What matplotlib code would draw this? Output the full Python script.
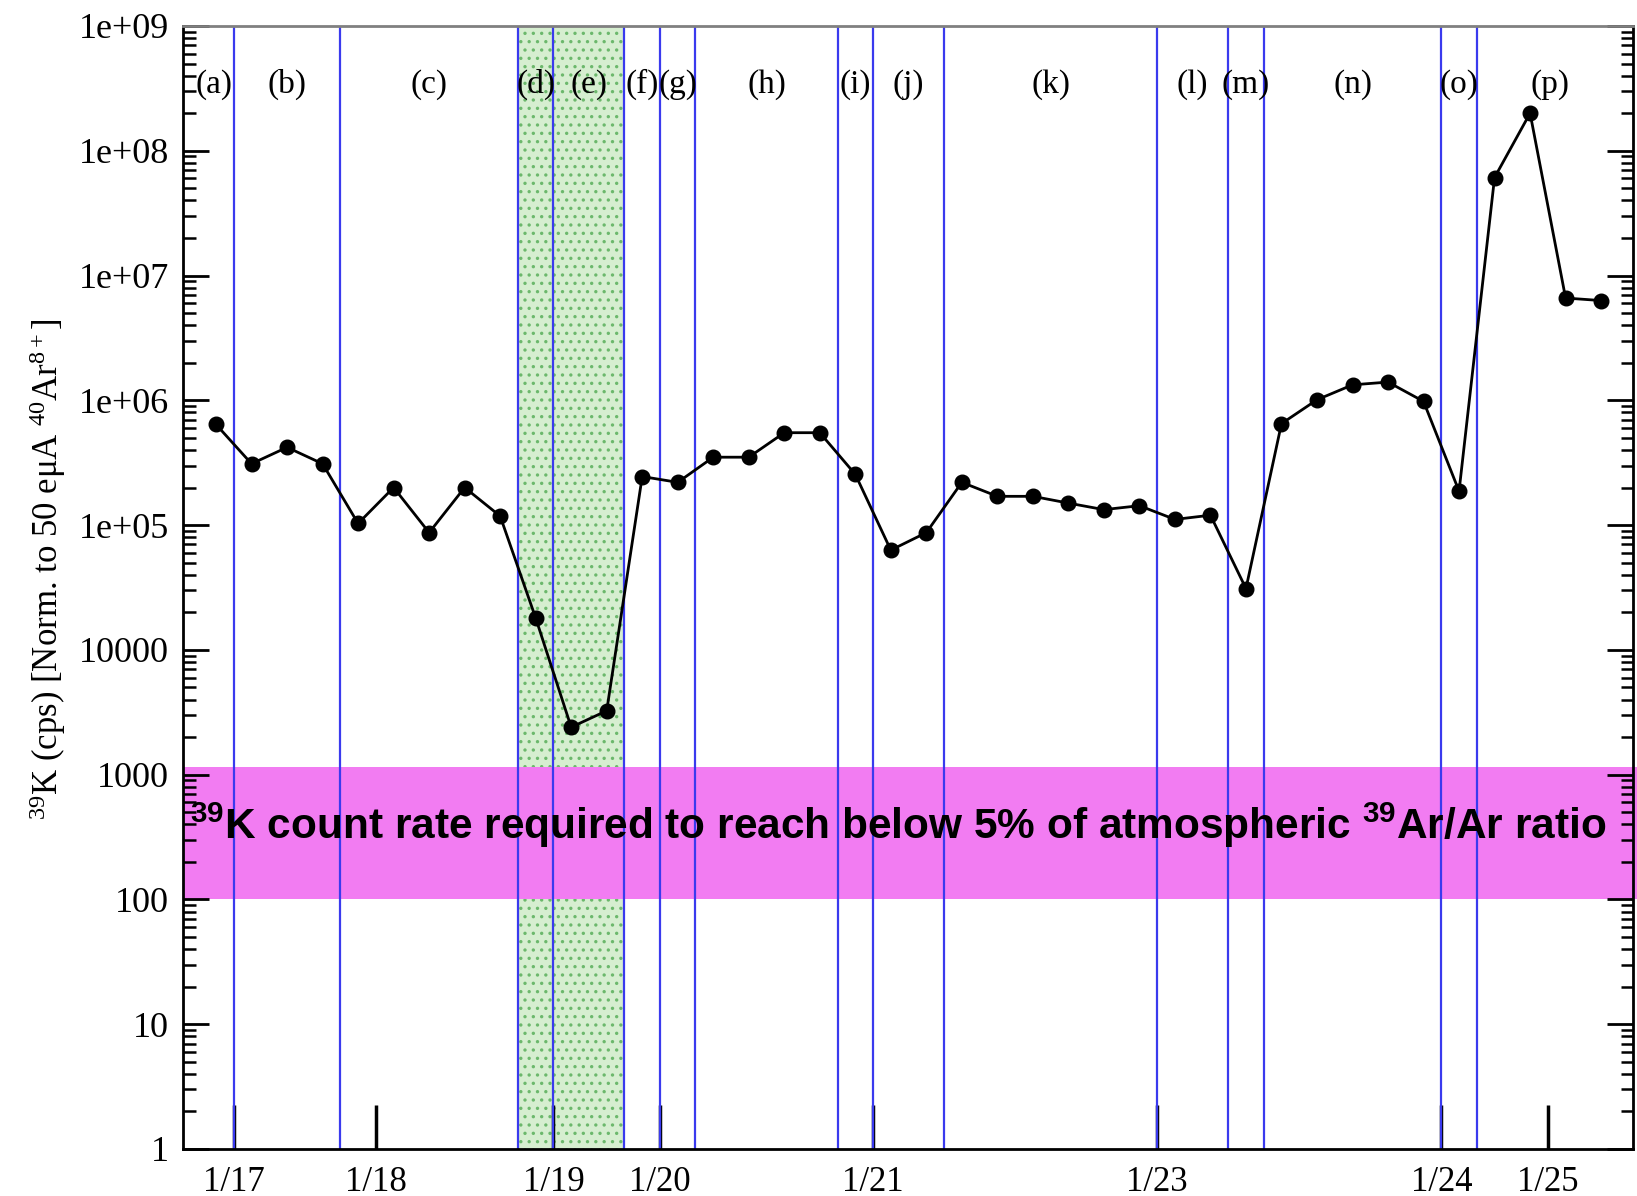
import numpy as np
import matplotlib.pyplot as plt
from matplotlib.ticker import FixedLocator, FuncFormatter, LogLocator, NullFormatter

plt.rcParams['font.family'] = ['Liberation Serif', 'DejaVu Serif']
plt.rcParams['mathtext.fontset'] = 'custom'
plt.rcParams['mathtext.rm'] = 'Liberation Serif'
plt.rcParams['mathtext.it'] = 'Liberation Serif:italic'
plt.rcParams['mathtext.bf'] = 'Liberation Sans:bold'
plt.rcParams['hatch.linewidth'] = 1.2

# 39K count rate per run (cps, normalised to 50 euA 40Ar8+)
k39_rate = [6.4e5, 3.1e5, 4.2e5, 3.1e5, 1.03e5, 2.0e5, 8.7e4, 2.0e5, 1.18e5, 1.8e4,
            2.4e3, 3.25e3, 2.45e5, 2.2e5, 3.5e5, 3.5e5, 5.5e5, 5.5e5, 2.55e5, 6.3e4,
            8.7e4, 2.2e5, 1.7e5, 1.7e5, 1.5e5, 1.33e5, 1.43e5, 1.11e5, 1.2e5, 3.1e4,
            6.5e5, 1.01e6, 1.33e6, 1.4e6, 9.8e5, 1.87e5, 6.1e7, 2.0e8, 6.6e6, 6.3e6]
run = list(range(len(k39_rate)))

# period boundaries (in run number) and labels
boundaries = [0.5, 3.5, 8.5, 9.5, 11.5, 12.5, 13.5, 17.5, 18.5, 20.5,
              26.5, 28.5, 29.5, 34.5, 35.5]
periods = ['(a)', '(b)', '(c)', '(d)', '(e)', '(f)', '(g)', '(h)',
           '(i)', '(j)', '(k)', '(l)', '(m)', '(n)', '(o)', '(p)']

date_pos = [0.5, 4.5, 9.5, 12.5, 18.5, 26.5, 34.5, 37.5]
date_labels = ['1/17', '1/18', '1/19', '1/20', '1/21', '1/23', '1/24', '1/25']

target_band = (100, 1150)
xmin, xmax = -0.93, 39.9

fig = plt.figure(figsize=(16.37, 11.96), dpi=100)
ax = fig.add_axes([0.1118, 0.0393, 0.9976 - 0.1118, 0.9783 - 0.0393])
ax.set_yscale('log')
ax.set_ylim(1, 1e9)
ax.set_xlim(xmin, xmax)

# green shaded periods (d)+(e)
ax.axvspan(boundaries[2], boundaries[4], facecolor='#d6eed0', edgecolor='#6cb86c',
           hatch='..', linewidth=0, zorder=1)
# required count rate band
ax.axhspan(target_band[0], target_band[1], xmin=0, xmax=1.01, facecolor='#f27cf2',
           edgecolor='none', zorder=1, clip_on=False)

for b in boundaries:
    ax.axvline(b, color='#3a3aee', linewidth=1.6, zorder=2)

edges = [xmin + 0.3] + boundaries + [xmax - 0.3]
for i, lab in enumerate(periods):
    ax.text((edges[i] + edges[i + 1]) / 2, 3.4e8, lab, ha='center', va='center',
            fontsize=24, zorder=4)

ax.plot(run, k39_rate, '-o', color='black', linewidth=2, markersize=10.5, zorder=5)

ax.text(19.2, 390, r'$\mathbf{^{39}}$K count rate required to reach below 5% of atmospheric '
        r'$\mathbf{^{39}}$Ar/Ar ratio', family='Liberation Sans', fontweight='bold',
        fontsize=30.5, ha='center', va='center', zorder=4)

# axes styling
ax.xaxis.set_major_locator(FixedLocator(date_pos))
ax.set_xticklabels(date_labels)
ax.tick_params(axis='x', which='major', direction='in', length=32, width=2.5,
               labelsize=25, pad=12, color='black')
ax.tick_params(axis='x', which='minor', bottom=False)

ax.yaxis.set_major_locator(LogLocator(base=10, numticks=20))
ax.yaxis.set_minor_locator(LogLocator(base=10, subs=np.arange(2, 10), numticks=20))
ax.yaxis.set_minor_formatter(NullFormatter())


def fmt(v, pos):
    if v < 1e5:
        return '%d' % round(v)
    return '1e+%02d' % round(np.log10(v))


ax.yaxis.set_major_formatter(FuncFormatter(fmt))
ax.tick_params(axis='y', which='major', direction='in', length=19, width=2,
               labelsize=26, pad=10, left=True, right=True)
ax.tick_params(axis='y', which='minor', direction='in', length=9, width=1.8,
               left=True, right=True)

for s in ['left', 'bottom', 'right']:
    ax.spines[s].set_linewidth(2)
ax.spines['top'].set_color('#808080')
ax.spines['top'].set_linewidth(2)

fig.text(0.029, 0.524, '$^{39}$K (cps) [Norm. to 50 eμA $^{40}$Ar$^{8+}$]',
         rotation=90, ha='center', va='center', fontsize=25)

plt.savefig('out.png', dpi=100)
